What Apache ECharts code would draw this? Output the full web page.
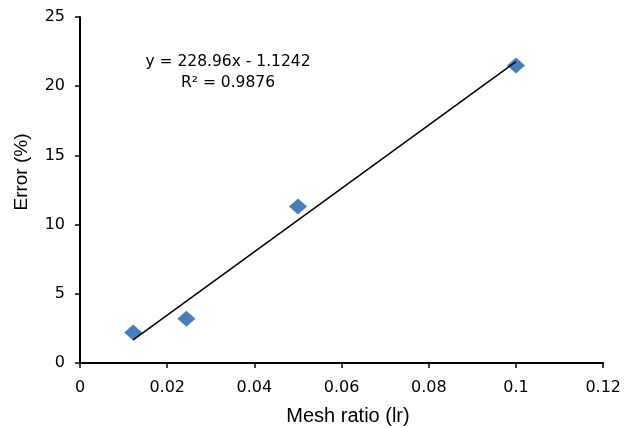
<!DOCTYPE html>
<html>
<head>
<meta charset="utf-8">
<script src="https://cdn.jsdelivr.net/npm/echarts@6/dist/echarts.min.js"></script>
<style>
  html, body { margin: 0; padding: 0; background: #fff; }
  #chart { width: 624px; height: 428px; }
</style>
</head>
<body>
<div id="chart"></div>
<script>
// measured points: mesh ratio vs error
let meshRatio = [0.0122, 0.0244, 0.05, 0.1];
let errorPct = [2.2, 3.2, 11.3, 21.5];
// linear trendline end points, as drawn
let trendX = [0.0122, 0.1];
let trendY = [1.67, 21.77];
let equation = ["y = 228.96x - 1.1242", "R\u00b2 = 0.9876"];

let chart = echarts.init(document.getElementById("chart"));
let tickFont = "DejaVu Sans";
let titleFont = "Liberation Sans";

let option = {
  animation: false,
  grid: {
    left: 80,
    right: 19,
    top: 17,
    bottom: 65,
  },
  xAxis: {
    type: "value",
    min: 0,
    max: 0.12,
    interval: 0.02,
    axisLine: { lineStyle: { color: "#000", width: 2 } },
    axisTick: { show: true, length: 5, lineStyle: { color: "#000", width: 1.5 } },
    splitLine: { show: false },
    axisLabel: {
      color: "#000",
      fontFamily: tickFont,
      fontSize: 16,
      margin: 17,
    },
  },
  yAxis: {
    type: "value",
    min: 0,
    max: 25,
    interval: 5,
    axisLine: { show: true, lineStyle: { color: "#000", width: 2 } },
    axisTick: { show: true, length: 5, lineStyle: { color: "#000", width: 1.5 } },
    splitLine: { show: false },
    axisLabel: {
      color: "#000",
      fontFamily: tickFont,
      fontSize: 16,
      margin: 15,
    },
  },
  graphic: [
    {
      type: "text",
      x: 228,
      y: 62,
      style: {
        text: equation[0],
        align: "center",
        verticalAlign: "middle",
        fill: "#000",
        font: "15.5px 'DejaVu Sans'",
      },
    },
    {
      type: "text",
      x: 228,
      y: 83,
      style: {
        text: equation[1],
        align: "center",
        verticalAlign: "middle",
        fill: "#000",
        font: "15.5px 'DejaVu Sans'",
      },
    },
    {
      type: "text",
      x: 348,
      y: 416,
      style: {
        text: "Mesh ratio (lr)",
        align: "center",
        verticalAlign: "middle",
        fill: "#000",
        font: "20px '" + titleFont + "'",
      },
    },
    {
      type: "text",
      x: 22,
      y: 172,
      rotation: Math.PI / 2,
      style: {
        text: "Error (%)",
        align: "center",
        verticalAlign: "middle",
        fill: "#000",
        font: "19px '" + titleFont + "'",
      },
    },
  ],
  series: [
    {
      name: "trend",
      type: "line",
      data: trendX.map((x, i) => [x, trendY[i]]),
      symbol: "none",
      lineStyle: { color: "#000", width: 1.5 },
      z: 3,
    },
    {
      name: "error",
      type: "scatter",
      data: meshRatio.map((x, i) => [x, errorPct[i]]),
      symbol: "diamond",
      symbolSize: [18, 16],
      itemStyle: { color: "#4a7ebb", opacity: 1 },
      z: 2,
    },
  ],
};
chart.setOption(option);
</script>
</body>
</html>
